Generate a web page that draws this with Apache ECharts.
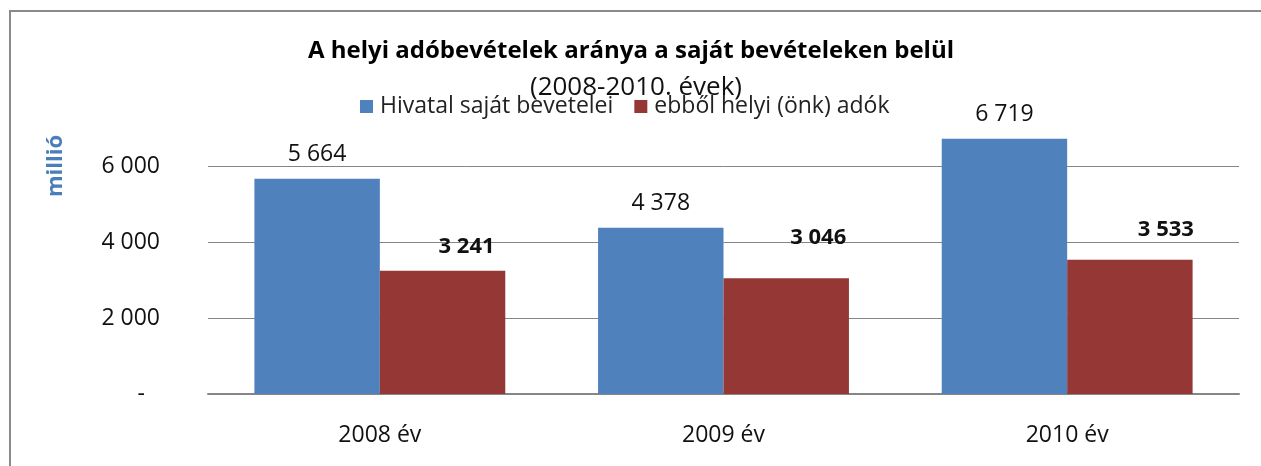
<!DOCTYPE html>
<html>
<head>
<meta charset="utf-8">
<script src="https://cdn.jsdelivr.net/npm/echarts@6/dist/echarts.min.js"></script>
<style>
  html, body { margin: 0; padding: 0; background: #fff; }
  #chart { width: 1261px; height: 466px; }
</style>
</head>
<body>
<div id="chart"></div>
<script>
// adatok
var categories = ['2008 év', '2009 év', '2010 év'];
var seriesNames = ['Hivatal saját bevetelei', 'ebből helyi (önk) adók'];
var sajatBevetel = [5664, 4378, 6719];
var helyiAdok = [3241, 3046, 3533];
var yTicks = [0, 2000, 4000, 6000];

// a piros címkék kézzel el voltak tolva
var redLabelShift = [[24, 0], [32, -17], [36, -6]];

function fmt(v) {
  return String(v).replace(/\B(?=(\d{3})+(?!\d))/g, ' ');
}

var chart = echarts.init(document.getElementById('chart'));
var font = 'Open Sans';

var option = {
  backgroundColor: '#fff',
  animation: false,
  textStyle: { fontFamily: font },
  title: [
    {
      text: 'A helyi adóbevételek aránya a saját bevételeken belül',
      left: 626, top: 34, textAlign: 'center',
      textStyle: { fontFamily: font, fontWeight: 'bold', fontSize: 24, color: '#000' }
    },
    {
      text: '(2008-2010. évek)',
      left: 631, top: 70, textAlign: 'center',
      textStyle: { fontFamily: font, fontWeight: 'normal', fontSize: 26, color: '#111' }
    }
  ],
  legend: {
    top: 90, left: 355,
    itemWidth: 13, itemHeight: 13, itemGap: 21,
    icon: 'rect',
    textStyle: { fontFamily: font, fontSize: 23, color: '#222', padding: [0, 0, 0, 2] },
    data: seriesNames
  },
  grid: { left: 208, right: 22, top: 166, bottom: 72 },
  xAxis: {
    type: 'category',
    data: categories,
    axisLine: { lineStyle: { color: '#868686', width: 2 } },
    axisTick: { show: false },
    axisLabel: { margin: 30, fontSize: 23, color: '#111', fontFamily: font }
  },
  yAxis: {
    type: 'value',
    min: yTicks[0], max: yTicks[yTicks.length - 1], interval: yTicks[1] - yTicks[0],
    axisLine: { show: false },
    axisTick: { show: false },
    splitLine: { lineStyle: { color: '#868686', width: 1 } },
    axisLabel: {
      margin: 48, fontSize: 23, color: '#111', fontFamily: font,
      formatter: function (v) { return v === 0 ? '{d|-}' : fmt(v); },
      rich: { d: { fontSize: 23, color: '#111', padding: [0, 15, 0, 0] } }
    }
  },
  graphic: [
    {
      type: 'rect',
      shape: { x: 10, y: 11, width: 1400, height: 600 },
      style: { fill: 'none', stroke: '#8a8a8a', lineWidth: 2 },
      silent: true
    },
    {
      // "millió" felirat a tengely bal oldalán
      type: 'text',
      x: 56, y: 166, rotation: Math.PI / 2,
      style: {
        text: 'millió', fill: '#4A7EBB', font: 'bold 22px "Open Sans"',
        align: 'center', verticalAlign: 'middle'
      },
      silent: true
    }
  ],
  series: [
    {
      name: seriesNames[0],
      type: 'bar',
      data: sajatBevetel,
      barGap: '0%',
      barCategoryGap: '27%',
      clip: false,
      itemStyle: { color: '#4F81BD' },
      label: {
        show: true, position: 'top', distance: 13,
        fontSize: 23, color: '#111', fontFamily: font,
        formatter: function (p) { return fmt(p.value); }
      }
    },
    {
      name: seriesNames[1],
      type: 'bar',
      clip: false,
      itemStyle: { color: '#953735' },
      data: helyiAdok.map(function (v, i) {
        return { value: v, label: { offset: redLabelShift[i] } };
      }),
      label: {
        show: true, position: 'top', distance: 13,
        fontSize: 22, fontWeight: 'bold', color: '#111', fontFamily: font,
        formatter: function (p) { return fmt(p.value); }
      }
    }
  ]
};

chart.setOption(option);
</script>
</body>
</html>
